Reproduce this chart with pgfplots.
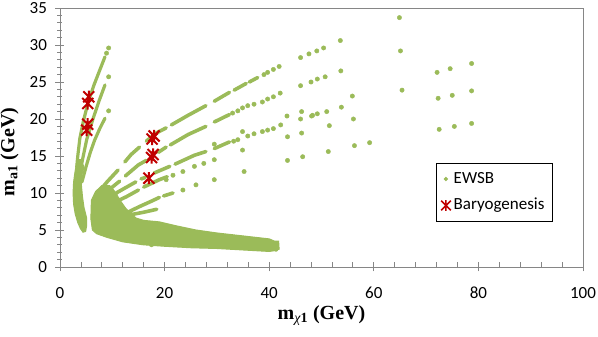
\documentclass[border=0pt]{standalone}
\usepackage{fontspec}
\setmainfont{Carlito}
\newfontfamily\lserif{Liberation Serif}
\usepackage{pgfplots}
\pgfplotsset{compat=1.18}
\definecolor{ewsb}{RGB}{155,187,89}
\definecolor{bary}{RGB}{192,0,0}
\definecolor{axgray}{RGB}{134,134,134}
\pgfdeclareplotmark{xstar}{%
  \pgfpathmoveto{\pgfqpoint{-\pgfplotmarksize}{-\pgfplotmarksize}}%
  \pgfpathlineto{\pgfqpoint{\pgfplotmarksize}{\pgfplotmarksize}}%
  \pgfpathmoveto{\pgfqpoint{-\pgfplotmarksize}{\pgfplotmarksize}}%
  \pgfpathlineto{\pgfqpoint{\pgfplotmarksize}{-\pgfplotmarksize}}%
  \pgfpathmoveto{\pgfqpoint{0pt}{-1.1\pgfplotmarksize}}%
  \pgfpathlineto{\pgfqpoint{0pt}{1.1\pgfplotmarksize}}%
  \pgfusepathqstroke}
\begin{document}
\begin{tikzpicture}
\useasboundingbox (-60pt,-70pt) rectangle (538pt,267pt);
\begin{axis}[
  scale only axis, width=523pt, height=259pt,
  xmin=0, xmax=100, ymin=0, ymax=35,
  xtick={0,20,...,100}, ytick={0,5,...,35},
  minor x tick num=4, minor y tick num=4,
  xtick pos=bottom, ytick pos=left,
  tick align=center, major tick length=9pt, minor tick length=5pt,
  minor x tick style={yshift=2.5pt},
  every tick/.style={axgray, line width=0.8pt},
  axis line style={axgray, line width=0.9pt},
  /pgf/number format/assume math mode=true,
  ticklabel style={font=\fontsize{17}{20}\selectfont, text=black},
  xticklabel style={yshift=-12pt},
  yticklabel style={xshift=-5pt},
  xlabel={\lserif\bfseries m\textsubscript{\mdseries\itshape χ\upshape\bfseries 1} (GeV)},
  ylabel={\lserif\bfseries m\textsubscript{a1} (GeV)},
  label style={font=\fontsize{20}{23}\selectfont},
  xlabel style={at={(axis description cs:0.5,-0.189)}, anchor=center},
  ylabel style={at={(axis description cs:-0.0966,0.444)}, anchor=center, rotate=0},
  legend style={font=\fontsize{17}{20}\selectfont, draw=black, line width=1pt,
    at={(axis description cs:0.9426,0.4015)}, anchor=north east,
    inner xsep=5pt, inner ysep=5pt, row sep=5.5pt,
    nodes={inner sep=3pt, text height=11.5pt, text depth=3.5pt},
    cells={anchor=west}},
  legend cell align=left,
]
% dense lower wedge and fan base
\addplot[fill=ewsb, draw=ewsb, line width=1pt, forget plot] coordinates {
(6.0,9.0) (6.8,10.2) (8.0,11.0) (9.5,11.0) (10.5,10.2) (11.5,9.0) (12.5,8.0)
(13.5,7.2) (14.6,6.6) (16,6.3) (19,6.1) (22,5.6) (26,5.0) (30,4.6) (35,4.2)
(40,3.8) (41.0,3.5) (41.8,3.5) (41.9,2.4) (41.0,2.2) (40,2.1) (35,2.3) (30,2.5)
(25,2.6) (20,2.8) (15.9,3.0) (12,3.4) (9,4.0) (7,4.5) (6.2,5.0) (5.9,6.5)
} -- cycle;
% left C band
\addplot[fill=ewsb, draw=ewsb, line width=1pt, forget plot] coordinates {
(3.3,14.5) (2.9,13.0) (2.6,11.5) (2.5,10.0) (2.6,8.5) (2.9,7.2) (3.4,6.0)
(3.9,5.2) (4.4,4.7) (4.9,4.8) (5.1,5.6) (5.1,6.6) (4.6,8.0) (4.3,9.5)
(4.1,11.0) (4.2,12.5) (4.6,13.5) (4.0,14.5)
} -- cycle;
% steep streaks
\addplot[ewsb, line width=3.2pt, line cap=round, line join=round, unbounded coords=jump, forget plot] coordinates {
(3.2,13.5) (3.4,15.0) (3.8,17.4) (4.5,19.8) (5.4,22.3) (6.5,24.6) (7.6,26.6) (8.6,28.4) (nan,nan)
(3.6,12.0) (4.3,14.5) (5.1,17.2) (6.3,20.0) (7.5,22.5) (8.6,24.6) (nan,nan)
(4.2,11.5) (5.0,13.6) (5.8,15.5) (6.6,17.1) (7.6,18.7) (8.6,20.1)
};
% fan streaks
\addplot[ewsb, line width=3.6pt, line cap=round, line join=round, unbounded coords=jump, forget plot] coordinates {
(6.5,9.3) (7.5,10.2) (9,11.5) (11.1,13.1) (nan,nan)
(12.4,14.2) (13.6,15.2) (15.2,16.2) (nan,nan)
(16.5,17.0) (18.4,18.1) (20.3,18.8) (nan,nan)
(21.3,19.2) (24.5,20.5) (27.9,21.8) (nan,nan)
(29.5,22.4) (32.4,23.6) (nan,nan)
(33.3,23.9) (35.6,24.8) (nan,nan)
(36.2,25.0) (37.8,25.6) (nan,nan)
(6.8,8.8) (8,9.6) (9.5,10.5) (11.4,11.6) (nan,nan)
(12.5,12.3) (15.0,13.8) (16.5,14.4) (nan,nan)
(18.8,15.5) (20.3,16.2) (nan,nan)
(21.1,16.5) (24.5,17.9) (27.9,19.0) (nan,nan)
(29.5,19.6) (32.4,20.6) (nan,nan)
(7.2,8.3) (9,9.0) (11,10.1) (13,10.9) (14.5,11.5) (nan,nan)
(15.5,11.9) (16.3,12.1) (nan,nan)
(18,12.7) (21,13.6) (nan,nan)
(22,13.9) (25.7,15.1) (27.9,15.6) (nan,nan)
(29.5,16.0) (32.4,16.9) (nan,nan)
(7.5,7.6) (10,8.6) (12.7,9.5) (15,10.4) (nan,nan)
(16,10.8) (19,11.8) (20.5,12.2) (nan,nan)
(9,6.8) (12.7,7.3) (15,8.1) (17.5,8.9) (19,9.4) (nan,nan)
(19.8,9.6) (21.6,10.0) (nan,nan)
(10,6.6) (13,7.0) (16,7.4) (18.5,7.8)
};
% individual points
\addplot[only marks, mark=*, mark size=2.2pt, ewsb, legend image post style={mark size=1.6pt}] coordinates {
(9.3,29.6) (8.9,28.9) (9.3,25.7) (9.3,21.1)
(39.0,26.0) (39.7,26.3) (40.8,26.7) (41.9,27.1)
(33.0,20.8) (34.0,21.1) (34.9,21.5) (35.9,21.8) (37.1,22.0) (38.7,22.3) (39.7,22.7) (40.8,23.0) (42.1,23.5)
(33.2,17.0) (34.0,17.2) (35.9,17.7) (37.1,18.0) (38.7,18.3) (39.7,18.5) (40.8,18.7) (42.2,19.2)
(21.6,12.4) (23.5,12.9) (25.7,13.6) (27.5,14.0) (29.5,14.5) (34.9,15.8)
(23.5,10.4) (26,11.1) (29.5,11.8) (35.2,12.9) (43.5,14.4)
(34.9,18.3) (29.5,16.6) (20.3,11.8) (41.3,3.2) (41.3,2.4) (17.5,3.0)
(64.9,33.7) (65.1,29.2) (65.4,23.9)
(53.6,30.6) (53.7,26.5) (53.8,21.6)
(55.9,23.1) (56.1,20.0) (56.3,16.4) (59.2,16.8)
(51.3,15.6) (51.5,19.1)
(50.4,29.6) (49.1,29.2) (47.6,28.8) (46.0,28.3)
(50.7,25.7) (49.2,25.4) (48.0,25.0) (46.0,24.5)
(51.0,21.0) (49.2,20.7) (48.1,20.4) (46.2,21.0) (46.0,20.0) (46.2,18.1) (46.4,14.9)
(43.4,20.4) (43.5,17.6) (48.3,20.5)
(72.1,26.3) (74.6,26.8) (78.7,27.5)
(72.3,22.8) (75.0,23.2) (78.7,23.8)
(72.5,18.6) (75.4,19.0) (78.7,19.4)
};
\addlegendentry{EWSB}
\addplot[only marks, mark=xstar, mark size=5.5pt, line width=2pt, bary, legend image post style={mark size=4.8pt, line width=1.6pt}] coordinates {
(5.1,18.5) (5.3,19.3) (5.3,22.1) (5.5,23.0)
(17.6,17.3) (18.0,17.7) (17.5,14.8) (17.8,15.2) (17.0,12.0)
};
\addlegendentry{Baryogenesis}
\end{axis}
\end{tikzpicture}
\end{document}
